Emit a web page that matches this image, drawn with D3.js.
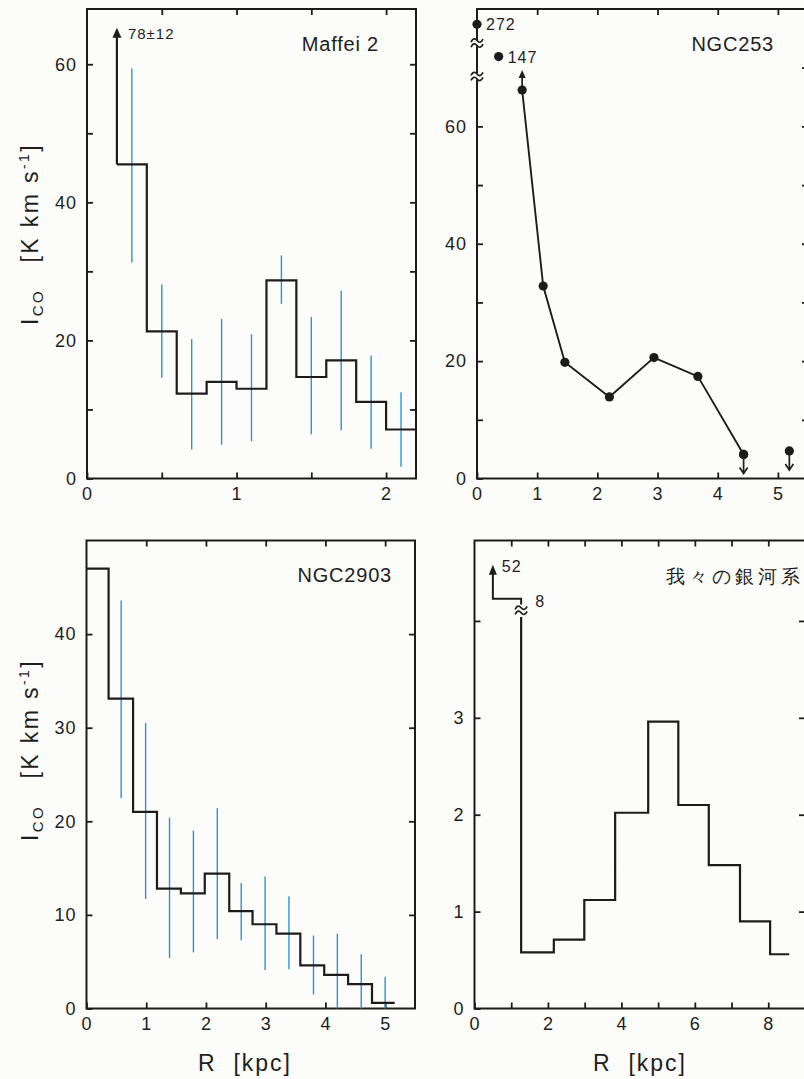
<!DOCTYPE html>
<html>
<head>
<meta charset="utf-8">
<script src="https://cdn.jsdelivr.net/npm/d3@7"></script>
<style>
  body { margin: 0; background: #fcfcfa; }
  svg { display: block; }
  text { font-family: "Liberation Sans", Arial, sans-serif; fill: #1e1e1e; }
</style>
</head>
<body>
<svg id="chart" width="804" height="1079"></svg>
<script>
// ---- Maffei 2 (histogram with error bars) ----
var maffeiEdges = [0.2, 0.4, 0.6, 0.8, 1.0, 1.2, 1.4, 1.6, 1.8, 2.0, 2.2];
var maffeiValues = [45.5, 21.3, 12.3, 14.0, 13.0, 28.7, 14.7, 17.1, 11.1, 7.1];
var maffeiErrR = [0.3, 0.5, 0.7, 0.9, 1.1, 1.3, 1.5, 1.7, 1.9, 2.1];
var maffeiErrLow = [31.3, 14.6, 4.2, 4.9, 5.4, 25.3, 6.4, 7.0, 4.3, 1.7];
var maffeiErrHigh = [59.4, 28.1, 20.2, 23.1, 20.9, 32.3, 23.4, 27.2, 17.8, 12.5];
var maffeiArrow = [0.2, 45.5, 65.3];          // R, from, to
var maffeiArrowLabel = "78\u00b112";

// ---- NGC253 (points joined by a line) ----
var ngc253R = [0.75, 1.10, 1.46, 2.20, 2.94, 3.67, 4.43];
var ngc253I = [66.2, 32.8, 19.8, 13.9, 20.6, 17.4, 4.1];
var ngc253LimitR = [4.43, 5.19];               // upper limits
var ngc253LimitI = [4.1, 4.7];
var ngc253HighR = [0, 0.36];                   // off-scale points, drawn above the break
var ngc253HighPos = [77.4, 71.9];
var ngc253HighLabels = ["272", "147"];
var ngc253Breaks = [68.5, 74.2];
var ngc253LowerLimit = [0.75, 66.2, 69.6];

// ---- NGC2903 (histogram with error bars) ----
var n2903Edges = [0, 0.37, 0.78, 1.18, 1.58, 1.98, 2.39, 2.78, 3.18, 3.58, 3.98, 4.38, 4.78, 5.16];
var n2903Values = [47.0, 33.1, 21.0, 12.8, 12.3, 14.4, 10.4, 9.0, 8.0, 4.6, 3.6, 2.6, 0.6];
var n2903ErrR = [0.58, 0.99, 1.39, 1.79, 2.19, 2.59, 2.99, 3.39, 3.80, 4.20, 4.60, 5.00];
var n2903ErrLow = [22.5, 11.7, 5.4, 6.0, 7.4, 7.3, 4.1, 4.2, 1.5, 0, 0, 0];
var n2903ErrHigh = [43.6, 30.5, 20.4, 19.0, 21.4, 13.4, 14.1, 12.0, 7.8, 8.0, 5.8, 3.4];

// ---- Milky Way (histogram, centre bins off-scale) ----
var mwEdges = [1.27, 2.16, 2.99, 3.83, 4.73, 5.55, 6.38, 7.23, 8.05, 8.57];
var mwValues = [0.58, 0.71, 1.12, 2.02, 2.96, 2.10, 1.48, 0.90, 0.56];
var mwCentreR = [0.5, 1.27];
var mwCentrePos = 4.23;
var mwArrowTop = 4.58;
var mwBreak = 4.11;
var mwCentreLabels = ["52", "8"];

var titles = ["Maffei 2", "NGC253", "NGC2903", "\u6211\u3005\u306e\u9280\u6cb3\u7cfb"];

var blue = "#2d94d2";
var ink = "#1c1c1c";
var svg = d3.select("#chart");

var panel = function(cfg) {
  var x = d3.scaleLinear().domain(cfg.xDomain).range([cfg.left, cfg.right]);
  var y = d3.scaleLinear().domain(cfg.yDomain).range([cfg.bottom, cfg.top]);
  var g = svg.append("g");
  var fmt = function(labels) {
    return function(d) { return labels.indexOf(d) >= 0 ? d : ""; };
  };
  var style = function(sel) {
    sel.attr("font-size", 18).attr("font-family", "Liberation Sans, Arial, sans-serif")
      .style("color", ink).style("letter-spacing", "1px");
    sel.select(".domain").remove();
    sel.selectAll(".tick line").attr("stroke-width", 1.8);
  };
  g.append("g").attr("transform", "translate(0," + cfg.bottom + ")")
    .call(d3.axisBottom(x).tickValues(cfg.xTicks).tickSizeInner(-6).tickSizeOuter(0)
      .tickPadding(9).tickFormat(fmt(cfg.xLabels)))
    .call(style);
  g.append("g").attr("transform", "translate(0," + cfg.top + ")")
    .call(d3.axisTop(x).tickValues(cfg.xTicks.filter(function(d) { return d > 0; }))
      .tickSizeInner(-6).tickSizeOuter(0).tickFormat(""))
    .call(style);
  g.append("g").attr("transform", "translate(" + cfg.left + ",0)")
    .call(d3.axisLeft(y).tickValues(cfg.yTicksLeft).tickSizeInner(-6).tickSizeOuter(0)
      .tickPadding(10).tickFormat(fmt(cfg.yLabels)))
    .call(style);
  g.append("g").attr("transform", "translate(" + cfg.right + ",0)")
    .call(d3.axisRight(y).tickValues(cfg.yTicksRight).tickSizeInner(-6).tickSizeOuter(0)
      .tickFormat(""))
    .call(style);
  g.append("rect")
    .attr("x", cfg.left).attr("y", cfg.top)
    .attr("width", cfg.right - cfg.left).attr("height", cfg.bottom - cfg.top)
    .attr("fill", "none").attr("stroke", ink).attr("stroke-width", 2);
  return { g: g, x: x, y: y };
};

var stepPath = function(p, edges, values, lead) {
  var pts = (lead || []).slice();
  values.forEach(function(v, i) { pts.push([edges[i], v]); });
  pts.push([edges[edges.length - 1], values[values.length - 1]]);
  var line = d3.line().curve(d3.curveStepAfter)
    .x(function(d) { return p.x(d[0]); })
    .y(function(d) { return p.y(d[1]); });
  p.g.append("path").attr("d", line(pts))
    .attr("fill", "none").attr("stroke", ink).attr("stroke-width", 2.2);
};

var errorBars = function(p, rs, lo, hi) {
  p.g.selectAll(null).data(rs).enter().append("line")
    .attr("x1", function(d) { return p.x(d); })
    .attr("x2", function(d) { return p.x(d); })
    .attr("y1", function(d, i) { return p.y(lo[i]); })
    .attr("y2", function(d, i) { return p.y(hi[i]); })
    .attr("stroke", blue).attr("stroke-width", 1.4);
};

// filled arrow head pointing up (dir = -1) or down (dir = 1) at (px, py)
var arrowHead = function(g, px, py, dir, w, h) {
  g.append("path")
    .attr("d", "M" + px + "," + py + "l" + (-w / 2) + "," + (-dir * h) + "h" + w + "z")
    .attr("fill", ink);
};

var breakMark = function(g, px, py) {
  g.append("rect").attr("x", px - 7).attr("y", py - 3).attr("width", 14).attr("height", 6)
    .attr("fill", "#fcfcfa");
  [-2.5, 2.5].forEach(function(o) {
    g.append("path")
      .attr("d", "M" + (px - 6) + "," + (py + o + 1.5) + "c2,-4 4,-4 6,-1.5 s4,2.5 6,-1.5")
      .attr("fill", "none").attr("stroke", ink).attr("stroke-width", 1.7);
  });
};

var title = function(p, txt, xEnd, yBase, size, spacing) {
  p.g.append("text").attr("x", xEnd).attr("y", yBase).attr("text-anchor", "end")
    .attr("font-size", size).style("letter-spacing", spacing || "0px").text(txt);
};

var yTitle = function(cx, cy) {
  var t = svg.append("text")
    .attr("transform", "translate(" + cx + "," + cy + ") rotate(-90)")
    .attr("text-anchor", "middle").attr("font-size", 23)
    .style("white-space", "pre").style("letter-spacing", "2.4px");
  t.append("tspan").text("I");
  t.append("tspan").attr("font-size", 15).attr("dy", 5).text("CO");
  t.append("tspan").attr("dy", -5).text("   [K km s");
  t.append("tspan").attr("font-size", 14).attr("dy", -9).text("-1");
  t.append("tspan").attr("dy", 9).text("]");
};

var xTitle = function(cx, cy) {
  svg.append("text").attr("x", cx).attr("y", cy).attr("text-anchor", "middle")
    .attr("font-size", 23).style("white-space", "pre").style("letter-spacing", "2px")
    .text("R  [kpc]");
};

// ---- panel 1: Maffei 2 ----
var p1 = panel({
  left: 87, right: 416, top: 9, bottom: 478.5,
  xDomain: [0, 2.2], yDomain: [0, 68],
  xTicks: [0, 0.5, 1, 1.5, 2], xLabels: [0, 1, 2],
  yTicksLeft: [0, 10, 20, 30, 40, 50, 60], yTicksRight: [10, 20, 30, 40, 50, 60],
  yLabels: [0, 20, 40, 60]
});
errorBars(p1, maffeiErrR, maffeiErrLow, maffeiErrHigh);
stepPath(p1, maffeiEdges, maffeiValues);
p1.g.append("line")
  .attr("x1", p1.x(maffeiArrow[0])).attr("x2", p1.x(maffeiArrow[0]))
  .attr("y1", p1.y(maffeiArrow[1])).attr("y2", p1.y(maffeiArrow[2]) + 6)
  .attr("stroke", ink).attr("stroke-width", 2.2);
arrowHead(p1.g, p1.x(maffeiArrow[0]), p1.y(maffeiArrow[2]), -1, 9, 10);
p1.g.append("text").attr("x", p1.x(maffeiArrow[0]) + 11).attr("y", p1.y(maffeiArrow[2]) + 11)
  .attr("font-size", 15).style("letter-spacing", "1px").text(maffeiArrowLabel);
title(p1, titles[0], 379, 51, 20, "0.8px");

// ---- panel 2: NGC253 ----
var p2 = panel({
  left: 477, right: 808, top: 9, bottom: 478.5,
  xDomain: [0, 5.5], yDomain: [0, 80],
  xTicks: [0, 1, 2, 3, 4, 5], xLabels: [0, 1, 2, 3, 4, 5],
  yTicksLeft: [0, 10, 20, 30, 40, 50, 60], yTicksRight: [10, 20, 30, 40, 50, 60, 70],
  yLabels: [0, 20, 40, 60]
});
p2.g.append("path")
  .attr("d", d3.line().x(function(d) { return p2.x(d[0]); }).y(function(d) { return p2.y(d[1]); })(
    ngc253R.map(function(r, i) { return [r, ngc253I[i]]; })))
  .attr("fill", "none").attr("stroke", ink).attr("stroke-width", 1.9);
p2.g.selectAll(null).data(ngc253R).enter().append("circle")
  .attr("cx", function(d) { return p2.x(d); })
  .attr("cy", function(d, i) { return p2.y(ngc253I[i]); })
  .attr("r", 4.6).attr("fill", ink);
ngc253LimitR.forEach(function(r, i) {
  var px = p2.x(r), py = p2.y(ngc253LimitI[i]);
  p2.g.append("circle").attr("cx", px).attr("cy", py).attr("r", 4.6).attr("fill", ink);
  p2.g.append("line").attr("x1", px).attr("x2", px).attr("y1", py).attr("y2", py + 19)
    .attr("stroke", ink).attr("stroke-width", 1.7);
  p2.g.append("path").attr("d", "M" + (px - 4) + "," + (py + 13) + "L" + px + "," + (py + 19) + "L" + (px + 4) + "," + (py + 13))
    .attr("fill", "none").attr("stroke", ink).attr("stroke-width", 1.7);
});
var ll = ngc253LowerLimit;
p2.g.append("line").attr("x1", p2.x(ll[0])).attr("x2", p2.x(ll[0]))
  .attr("y1", p2.y(ll[1])).attr("y2", p2.y(ll[2]) + 5)
  .attr("stroke", ink).attr("stroke-width", 1.7);
arrowHead(p2.g, p2.x(ll[0]), p2.y(ll[2]), -1, 7, 8);
ngc253Breaks.forEach(function(b) { breakMark(p2.g, p2.x(0), p2.y(b)); });
ngc253HighR.forEach(function(r, i) {
  p2.g.append("circle").attr("cx", p2.x(r)).attr("cy", p2.y(ngc253HighPos[i])).attr("r", 4.6).attr("fill", ink);
  p2.g.append("text").attr("x", p2.x(r) + 9).attr("y", p2.y(ngc253HighPos[i]) + 6)
    .attr("font-size", 16).style("letter-spacing", "1px").text(ngc253HighLabels[i]);
});
title(p2, titles[1], 774, 51, 20, "0.8px");

// ---- panel 3: NGC2903 ----
var p3 = panel({
  left: 86.5, right: 415, top: 540.5, bottom: 1008.5,
  xDomain: [0, 5.5], yDomain: [0, 50],
  xTicks: [0, 1, 2, 3, 4, 5], xLabels: [0, 1, 2, 3, 4, 5],
  yTicksLeft: [0, 10, 20, 30, 40], yTicksRight: [10, 20, 30, 40],
  yLabels: [0, 10, 20, 30, 40]
});
errorBars(p3, n2903ErrR, n2903ErrLow, n2903ErrHigh);
stepPath(p3, n2903Edges, n2903Values);
title(p3, titles[2], 392, 582, 20, "0.8px");

// ---- panel 4: Milky Way ----
var p4 = panel({
  left: 474.5, right: 805, top: 540.5, bottom: 1008.5,
  xDomain: [0, 9], yDomain: [0, 4.83],
  xTicks: [0, 1, 2, 3, 4, 5, 6, 7, 8], xLabels: [0, 2, 4, 6, 8],
  yTicksLeft: [0, 1, 2, 3, 4], yTicksRight: [1, 2, 3, 4],
  yLabels: [0, 1, 2, 3]
});
stepPath(p4, mwEdges, mwValues, [[mwCentreR[1], mwBreak - 0.07]]);
p4.g.append("path")
  .attr("d", "M" + p4.x(mwCentreR[0]) + "," + (p4.y(mwArrowTop) + 6) +
    "V" + p4.y(mwCentrePos) + "H" + p4.x(mwCentreR[1]) + "V" + p4.y(mwBreak + 0.06))
  .attr("fill", "none").attr("stroke", ink).attr("stroke-width", 2);
arrowHead(p4.g, p4.x(mwCentreR[0]), p4.y(mwArrowTop), -1, 8, 10);
breakMark(p4.g, p4.x(mwCentreR[1]), p4.y(mwBreak));
p4.g.append("text").attr("x", p4.x(mwCentreR[0]) + 9).attr("y", p4.y(mwArrowTop) + 7)
  .attr("font-size", 16).style("letter-spacing", "1px").text(mwCentreLabels[0]);
p4.g.append("text").attr("x", p4.x(mwCentreR[1]) + 14).attr("y", p4.y(mwCentrePos) + 8)
  .attr("font-size", 16).text(mwCentreLabels[1]);
p4.g.append("text").attr("x", 666).attr("y", 583).attr("font-size", 19)
  .attr("font-family", "Noto Sans CJK JP").style("letter-spacing", "4px").text(titles[3]);

yTitle(37.5, 234);
yTitle(37.5, 750);
xTitle(245, 1071);
xTitle(640, 1071);
</script>
</body>
</html>
